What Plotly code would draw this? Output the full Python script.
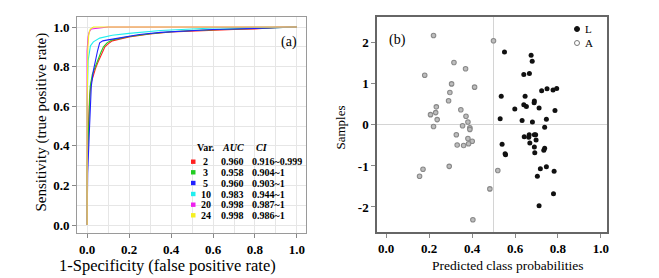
import plotly.graph_objects as go

W, H = 659, 278

# ---------------- Data: panel (a) ROC curves ----------------
var_labels = ["2", "3", "5", "10", "20", "24"]
auc_values = ["0.960", "0.958", "0.960", "0.983", "0.998", "0.998"]
ci_values = ["0.916~0.999", "0.904~1", "0.903~1", "0.944~1", "0.987~1", "0.986~1"]
roc_colors = ["#ff2020", "#22cc22", "#2020ff", "#20eeee", "#ee20ee", "#f4f020"]

fpr_2 = [0, 0, 0.005, 0.012, 0.02, 0.03, 0.04, 0.055, 0.07, 0.085, 0.1, 0.12, 0.2, 0.3, 0.4, 0.5, 0.6, 0.7, 0.8, 0.9, 1]
tpr_2 = [0, 0.25, 0.45, 0.65, 0.72, 0.76, 0.79, 0.83, 0.865, 0.9, 0.915, 0.93, 0.95, 0.965, 0.975, 0.98, 0.985, 0.987, 0.99, 0.998, 1]
fpr_3 = [0, 0, 0.008, 0.015, 0.025, 0.035, 0.05, 0.065, 0.078, 0.095, 0.12, 0.2, 0.3, 0.4, 0.5, 0.6, 0.7, 0.8, 0.9, 1]
tpr_3 = [0, 0.3, 0.5, 0.7, 0.76, 0.79, 0.83, 0.87, 0.9, 0.92, 0.935, 0.952, 0.966, 0.976, 0.982, 0.987, 0.99, 0.993, 0.997, 1]
fpr_5 = [0, 0.003, 0.01, 0.013, 0.02, 0.03, 0.04, 0.05, 0.06, 0.075, 0.1, 0.15, 0.25, 0.35, 0.45, 0.6, 0.8, 0.9, 1]
tpr_5 = [0, 0.26, 0.45, 0.55, 0.7, 0.78, 0.84, 0.88, 0.92, 0.93, 0.935, 0.945, 0.962, 0.973, 0.98, 0.987, 0.993, 0.997, 1]
fpr_10 = [0, 0, 0.005, 0.01, 0.016, 0.03, 0.06, 0.12, 0.2, 0.35, 0.5, 0.6, 0.8, 1]
tpr_10 = [0, 0.6, 0.83, 0.87, 0.905, 0.925, 0.944, 0.958, 0.968, 0.982, 0.99, 0.995, 0.998, 1]
fpr_20 = [0, 0, 0.005, 0.01, 0.02, 0.05, 0.1, 1]
tpr_20 = [0, 0.88, 0.95, 0.975, 0.99, 0.995, 1, 1]
fpr_24 = [0, 0, 0.004, 0.008, 0.015, 0.03, 1]
tpr_24 = [0, 0.6, 0.9, 0.96, 0.99, 1, 1]

roc_fpr = [fpr_2, fpr_3, fpr_5, fpr_10, fpr_20, fpr_24]
roc_tpr = [tpr_2, tpr_3, tpr_5, tpr_10, tpr_20, tpr_24]

# ---------------- Data: panel (b) scatter ----------------
L_prob = [0.551, 0.675, 0.680, 0.641, 0.667, 0.724, 0.749, 0.777, 0.794, 0.536, 0.647, 0.690,
          0.689, 0.599, 0.641, 0.653, 0.712, 0.786, 0.531, 0.633, 0.746, 0.681, 0.738, 0.643,
          0.666, 0.664, 0.690, 0.696, 0.698, 0.669, 0.690, 0.738, 0.734, 0.540, 0.554, 0.556,
          0.692, 0.718, 0.746, 0.782, 0.704, 0.779, 0.712]
L_sample = [1.78, 1.70, 1.55, 1.23, 1.25, 0.83, 0.88, 0.85, 0.89, 0.70, 0.70, 0.58,
            0.54, 0.39, 0.49, 0.45, 0.41, 0.35, 0.15, 0.11, 0.14, 0.07, -0.06, -0.29,
            -0.24, -0.30, -0.24, -0.24, -0.37, -0.44, -0.54, -0.57, -0.62, -0.47, -0.70, -0.73,
            -0.68, -1.07, -1.02, -1.13, -1.25, -1.68, -1.97]
A_prob = [0.221, 0.500, 0.316, 0.370, 0.180, 0.305, 0.412, 0.297, 0.291, 0.234, 0.348, 0.231,
          0.207, 0.372, 0.238, 0.381, 0.221, 0.356, 0.390, 0.390, 0.327, 0.381, 0.401, 0.331,
          0.361, 0.384, 0.294, 0.172, 0.520, 0.156, 0.483, 0.404]
A_sample = [2.18, 2.05, 1.52, 1.37, 1.21, 1.00, 0.92, 0.79, 0.59, 0.44, 0.37, 0.30,
            0.25, 0.21, 0.13, 0.07, -0.04, -0.02, -0.07, -0.11, -0.24, -0.33, -0.40, -0.49,
            -0.50, -0.46, -1.01, -1.08, -1.11, -1.25, -1.56, -2.31]
class_labels = ["L", "A"]

prob_ticks = [0.0, 0.2, 0.4, 0.6, 0.8, 1.0]
prob_ticktext = ["<b>0.0</b>", "<b>0.2</b>", "<b>0.4</b>", "<b>0.6</b>", "<b>0.8</b>", "<b>1.0</b>"]
sample_ticks = [-2, -1, 0, 1, 2]
sample_ticktext = ["<b>-2</b>", "<b>-1</b>", "<b>0</b>", "<b>1</b>", "<b>2</b>"]

SERIF = "Liberation Serif, Times New Roman, serif"

def fx(px):
    return px / W

def fy(py):
    return 1 - py / H

def note(text, px, py, size, xanchor="center", angle=0):
    return dict(text=text, x=fx(px), y=fy(py), xref="paper", yref="paper",
                xanchor=xanchor, yanchor="middle", showarrow=False, textangle=angle,
                font=dict(family=SERIF, size=size, color="black"))

fig = go.Figure()

for i in range(len(var_labels)):
    fig.add_trace(go.Scatter(x=roc_fpr[i], y=roc_tpr[i], mode="lines",
                             line=dict(color=roc_colors[i], width=1.1),
                             xaxis="x", yaxis="y", showlegend=False, hoverinfo="skip"))

fig.add_trace(go.Scatter(x=A_prob, y=A_sample, mode="markers",
                         marker=dict(size=4.5, color="#bdbdbd", line=dict(color="#888888", width=1.1)),
                         xaxis="x2", yaxis="y2", showlegend=False))
fig.add_trace(go.Scatter(x=L_prob, y=L_sample, mode="markers",
                         marker=dict(size=5, color="#111111"),
                         xaxis="x2", yaxis="y2", showlegend=False))

tickfont = dict(family=SERIF, size=13, color="black")

common_ax = dict(ticks="outside", ticklen=4, tickcolor="#888", showline=True, mirror=True,
                 tickfont=tickfont, automargin=False)

shapes = []
annotations = []

# reference line at 0.5 probability in panel (b)
shapes.append(dict(type="line", xref="x2", yref="paper", x0=0.5, x1=0.5,
                   y0=fy(232), y1=fy(17), line=dict(color="#d4d4d4", width=1), layer="below"))

# white box behind legend table of panel (a)
shapes.append(dict(type="rect", xref="paper", yref="paper", x0=fx(185), x1=fx(305.5),
                   y0=fy(232.5), y1=fy(139), fillcolor="white", line=dict(width=0), layer="between"))

# legend table for panel (a)
hdr_y = 147
row_y = [161.7, 172.3, 183.0, 194.0, 204.7, 215.3]
annotations.append(note("<b>Var.</b>", 205.5, hdr_y, 10))
annotations.append(note("<b><i>AUC</i></b>", 232.5, hdr_y, 10))
annotations.append(note("<b><i>CI</i></b>", 262, hdr_y, 10))
for i in range(len(var_labels)):
    yy = fy(row_y[i])
    shapes.append(dict(type="rect", xref="paper", yref="paper",
                       x0=fx(191), x1=fx(195.5), y0=yy - 2.2 / H, y1=yy + 2.2 / H,
                       fillcolor=roc_colors[i], line=dict(width=0), layer="above"))
    annotations.append(note("<b>%s</b>" % var_labels[i], 205.5, row_y[i], 10))
    annotations.append(note("<b>%s</b>" % auc_values[i], 232, row_y[i], 10))
    annotations.append(note("<b>%s</b>" % ci_values[i], 249.5, row_y[i], 10, xanchor="left"))

# panel labels
annotations.append(note("(a)", 289, 42, 14))
annotations.append(note("(b)", 397, 40, 14))

# legend for panel (b)
shapes.append(dict(type="circle", xref="paper", yref="paper",
                   x0=fx(574.5), x1=fx(579.5), y0=fy(31.5), y1=fy(26.5),
                   fillcolor="#111", line=dict(color="#111", width=1), layer="above"))
shapes.append(dict(type="circle", xref="paper", yref="paper",
                   x0=fx(574.5), x1=fx(579.5), y0=fy(45.5), y1=fy(40.5),
                   fillcolor="white", line=dict(color="#777", width=1), layer="above"))
annotations.append(note("<br>".join(class_labels), 583, 36, 11, xanchor="left"))
annotations[-1]["align"] = "left"

# axis titles
annotations.append(note("1-Specificity (false positive rate)", 167.5, 265, 16.5))
annotations.append(note("Sensitivity (true positive rate)", 41.5, 122, 15, angle=-90))
annotations.append(note("Predicted class probabilities", 507, 265, 13.5))
annotations.append(note("Samples", 340, 127.5, 13, angle=-90))

minor_grid = dict(tickvals=[0.1, 0.3, 0.5, 0.7, 0.9], showgrid=True, gridcolor="#e6e6e6", ticks="")

fig.update_layout(
    width=W, height=H, margin=dict(l=0, r=0, t=0, b=0, autoexpand=False),
    paper_bgcolor="white", plot_bgcolor="white", showlegend=False,
    xaxis=dict(domain=[fx(77), fx(306)], range=[-0.048, 1.043], anchor="y",
               tickvals=prob_ticks, ticktext=prob_ticktext, linecolor="#9a9a9a", linewidth=1,
               showgrid=True, gridcolor="#e6e6e6", gridwidth=1, zeroline=False,
               minor=minor_grid, **common_ax),
    yaxis=dict(domain=[fy(233), fy(17)], range=[-0.0404, 1.0505], anchor="x",
               tickvals=prob_ticks, ticktext=prob_ticktext, linecolor="#9a9a9a", linewidth=1,
               showgrid=True, gridcolor="#e6e6e6", gridwidth=1, zeroline=False,
               minor=minor_grid, **common_ax),
    xaxis2=dict(domain=[fx(377), fx(607)], range=[-0.042, 1.028], anchor="y2",
                tickvals=prob_ticks, ticktext=prob_ticktext, linecolor="#666", linewidth=1.5,
                showgrid=False, zeroline=False, **common_ax),
    yaxis2=dict(domain=[fy(232), fy(17)], range=[-2.61, 2.63], anchor="x2",
                tickvals=sample_ticks, ticktext=sample_ticktext, linecolor="#666", linewidth=1.5,
                showgrid=False, zeroline=True, zerolinecolor="#d4d4d4", zerolinewidth=1,
                **common_ax),
    shapes=shapes, annotations=annotations,
)

fig.write_html("out.html", config={"displayModeBar": False},
               post_script="document.body.style.margin='0px';")
